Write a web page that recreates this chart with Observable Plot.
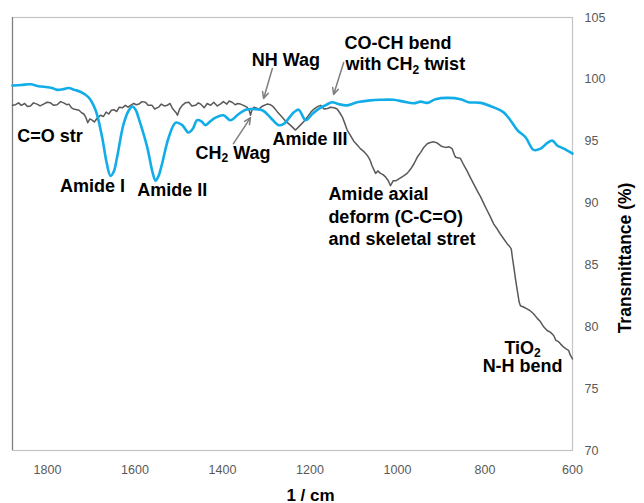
<!DOCTYPE html>
<html>
<head>
<meta charset="utf-8">
<script src="https://cdn.jsdelivr.net/npm/d3@7"></script>
<script src="https://cdn.jsdelivr.net/npm/@observablehq/plot@0.6"></script>
<style>
  html, body { margin: 0; padding: 0; background: #fff; }
  #chart { width: 644px; height: 503px; }
</style>
</head>
<body>
<div id="chart"></div>
<script>
// ---- axes ----
const xDomain = [1880, 600];
const xTicks = [1800, 1600, 1400, 1200, 1000, 800, 600];
const yDomain = [70, 105];
const yTicks = [70, 75, 80, 85, 90, 95, 100, 105];
const xTitle = "1 / cm";
const yTitle = "Transmittance (%)";

// ---- blue spectrum ----
const blueX = [1880,1860,1839,1820,1809,1790,1778,1765,1752,1738,1725,1706,1690,1675,1665,1656,1648,1641,1626,1614,1606,1598,1592,1572,1560,1553,1546,1538,1523,1507,1492,1478,1468,1458,1448,1439,1428,1416,1398,1382,1363,1347,1329,1309,1290,1272,1260,1238,1226,1210,1195,1181,1165,1149,1135,1115,1092,1062,1039,1009,986,963,947,932,913,886,856,838,810,781,758,742,726,707,689,673,658,646,635,620,600];
const blueY = [99.5,99.55,99.6,99.45,99.4,99.3,99.15,99.2,99.3,99.15,99.0,98.55,97.5,95.3,93.3,92.2,92.6,93.7,96.4,97.5,97.8,97.5,96.9,94.5,92.5,91.8,92.2,93.2,95.3,96.5,96.3,95.7,96.0,96.7,96.6,96.3,96.6,96.9,97.1,96.7,97.2,97.55,97.6,97.5,96.9,96.3,96.4,97.3,97.55,96.7,97.2,97.6,97.9,98.15,98.0,97.9,98.15,98.3,98.35,98.35,98.2,98.07,98.2,98.1,98.4,98.5,98.4,98.15,98.1,97.75,97.35,96.7,95.9,95.3,94.3,94.4,94.85,95.05,94.65,94.4,94.0];

// ---- gray spectrum ----
const grayX = [1880,1873,1866,1860,1852,1846,1839,1832,1824,1817,1809,1801,1793,1786,1778,1770,1763,1756,1751,1745,1740,1733,1728,1722,1717,1712,1708,1703,1698,1693,1688,1683,1679,1672,1666,1660,1654,1648,1642,1636,1629,1622,1616,1610,1603,1597,1591,1584,1576,1570,1561,1555,1546,1540,1533,1526,1520,1515,1511,1506,1503,1498,1492,1485,1477,1470,1462,1455,1450,1442,1435,1427,1420,1412,1405,1398,1390,1385,1378,1371,1365,1359,1352,1344,1339,1336,1332,1328,1317,1308,1298,1290,1283,1274,1264,1255,1245,1233,1222,1214,1206,1198,1191,1183,1176,1168,1160,1153,1145,1138,1132,1126,1120,1115,1108,1100,1092,1085,1078,1069,1063,1058,1054,1050,1045,1039,1033,1027,1021,1016,1010,1004,995,986,978,970,962,955,947,940,932,925,917,909,900,890,882,875,870,867,860,856,849,841,834,826,818,810,802,795,788,780,772,765,757,749,744,740,737,734,730,726,722,719,712,704,697,689,681,673,666,658,650,643,638,632,627,620,614,609,605,600];
const grayY = [97.9,97.95,98.1,97.9,98.05,97.8,97.85,98.1,98.0,97.85,98.0,98.15,98.1,97.9,97.95,98.2,98.1,97.95,98.0,97.7,97.6,97.55,97.5,97.3,97.2,96.9,96.5,96.8,96.7,96.55,96.8,96.95,97.1,97.0,97.35,97.2,97.5,97.55,97.4,97.75,97.7,97.9,97.75,97.9,98.05,97.95,98.0,98.2,98.15,97.9,97.9,97.6,97.75,98.0,97.85,97.9,98.05,97.7,97.5,97.3,97.1,97.6,97.9,98.1,98.15,97.85,97.9,98.1,98.0,97.7,98.05,97.9,98.15,97.85,98.0,98.2,98.0,98.25,98.15,97.95,98.05,98.0,97.9,97.75,97.5,97.1,97.6,97.75,97.6,97.85,98.0,97.95,97.75,97.35,96.95,96.6,96.3,95.9,96.3,96.6,96.95,97.35,97.6,97.8,97.9,97.6,97.65,97.75,97.7,97.6,97.3,96.95,96.4,95.9,95.5,95.0,94.7,94.4,94.2,93.85,93.5,93.0,92.7,92.4,92.6,92.4,92.3,92.1,91.8,91.4,91.8,91.8,92.0,92.2,92.4,92.75,93.2,93.7,94.1,94.5,94.8,94.9,94.95,94.85,94.6,94.5,94.55,94.4,93.9,93.7,93.65,93.6,93.1,92.6,92.1,91.55,91.0,90.5,89.9,89.4,88.9,88.3,87.9,87.5,87.1,86.7,86.5,86.3,85.5,84.8,83.8,82.9,82.0,81.7,81.6,81.45,81.3,81.05,80.7,80.4,80.0,79.7,79.55,79.3,78.9,78.8,78.6,78.35,78.2,78.1,77.7,77.4];

// ---- annotations (data units) ----
const labelText   = ["C=O str","Amide I","Amide II","CH₂ Wag","Amide III","NH Wag","CO-CH bend","with CH₂ twist","Amide axial","deform (C-C=O)","and skeletal stret","TiO₂","N-H bend"];
const labelX      = [1869,1697,1515,1376,1200,1255,1121,1119,1158,1158,1158,714,714];
const labelY      = [94.95,90.93,90.61,93.6,94.73,101.12,102.49,100.72,90.21,88.35,86.65,77.84,76.38];
const labelAnchor = ["start","middle","middle","middle","middle","middle","start","start","start","start","start","middle","middle"];

const arrowX1 = [1286, 1123, 1375];
const arrowY1 = [100.88, 101.36, 94.8];
const arrowX2 = [1306, 1146, 1336];
const arrowY2 = [98.45, 98.78, 96.9];

// ---- build tables ----
const blue = blueX.map((x, i) => ({x, y: blueY[i]}));
const gray = grayX.map((x, i) => ({x, y: grayY[i]}));
const labels = labelText.map((t, i) => ({t, x: labelX[i], y: labelY[i], a: labelAnchor[i]}));
const arrows = arrowX1.map((x1, i) => ({x1, y1: arrowY1[i], x2: arrowX2[i], y2: arrowY2[i]}));

const font = "'Liberation Sans', Arial, Helvetica, sans-serif";
const textOpts = {fill: "#000", fontWeight: "bold", fontSize: 18, fontFamily: font, lineAnchor: "bottom"};

const chart = Plot.plot({
  width: 644,
  height: 503,
  marginLeft: 12,
  marginRight: 72,
  marginTop: 17,
  marginBottom: 53,
  style: {fontFamily: font, fontSize: "12.5px", color: "#595959", background: "#fff"},
  x: {domain: xDomain, ticks: xTicks, tickSize: 0, tickPadding: 15, tickFormat: d => String(d), label: null},
  y: {domain: yDomain, ticks: yTicks, tickSize: 0, tickPadding: 12, label: null, axis: "right"},
  marks: [
    Plot.frame({stroke: "#c4c4c4", strokeWidth: 1.2}),
    Plot.ruleX([xDomain[0]], {stroke: "#7f7f7f", strokeWidth: 1.2}),
    Plot.line(gray, {x: "x", y: "y", stroke: "#595959", strokeWidth: 1.5}),
    Plot.line(blue, {x: "x", y: "y", stroke: "#12ade8", strokeWidth: 2.6, curve: "catmull-rom"}),
    Plot.arrow(arrows, {x1: "x1", y1: "y1", x2: "x2", y2: "y2", stroke: "#7f7f7f", strokeWidth: 1.5, headLength: 7, headAngle: 50}),
    Plot.text(labels.filter(d => d.a === "start"), {...textOpts, x: "x", y: "y", text: "t", textAnchor: "start"}),
    Plot.text(labels.filter(d => d.a === "middle"), {...textOpts, x: "x", y: "y", text: "t", textAnchor: "middle"}),
    Plot.text([xTitle], {text: d => d, frameAnchor: "bottom", dx: 18, dy: 50, textAnchor: "middle", lineAnchor: "bottom", fill: "#000", fontWeight: "bold", fontSize: 17, fontFamily: font}),
    Plot.text([yTitle], {text: d => d, frameAnchor: "right", dx: 53, dy: 24, rotate: -90, textAnchor: "middle", lineAnchor: "middle", fill: "#000", fontWeight: "bold", fontSize: 17.5, fontFamily: font})
  ]
});

// subscripts: turn "₂" into a real lowered, smaller "2"
chart.querySelectorAll("text").forEach(t => {
  const s = t.textContent;
  if (!s.includes("₂") || t.querySelector("tspan")) return;
  const parts = s.split("₂");
  t.textContent = "";
  const ns = "http://www.w3.org/2000/svg";
  const a = document.createElementNS(ns, "tspan"); a.textContent = parts[0]; t.appendChild(a);
  const b = document.createElementNS(ns, "tspan"); b.textContent = "2"; b.setAttribute("font-size", "12"); b.setAttribute("dy", "3.5"); t.appendChild(b);
  if (parts[1]) {
    const c = document.createElementNS(ns, "tspan"); c.textContent = parts[1]; c.setAttribute("dy", "-3.5"); t.appendChild(c);
  }
});

document.getElementById("chart").appendChild(chart);
</script>
</body>
</html>
